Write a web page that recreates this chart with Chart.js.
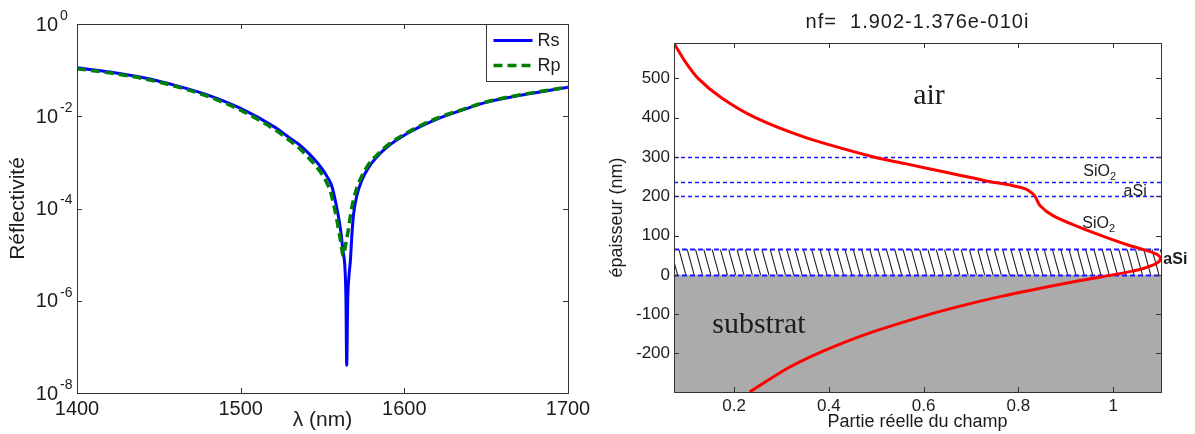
<!DOCTYPE html>
<html lang="fr">
<head>
<meta charset="utf-8">
<title>Réflectivité et profil du champ</title>
<script src="https://cdn.jsdelivr.net/npm/chart.js@4.4.0/dist/chart.umd.min.js"></script>
<style>
  html, body { margin: 0; padding: 0; background: #fff; }
  body { width: 1195px; height: 434px; position: relative; overflow: hidden; }
  canvas { position: absolute; top: 0; }
  #chart-refl { left: 0; }
  #chart-field { left: 595px; }
</style>
</head>
<body>
<canvas id="chart-refl" width="600" height="434"></canvas>
<canvas id="chart-field" width="600" height="434"></canvas>
<script>
// left panel: reflectivity vs wavelength
const lambdaRs = [1400, 1420, 1440, 1460, 1480, 1500, 1520, 1530, 1536, 1542, 1548, 1553, 1556, 1559.4, 1561, 1562.5,
  1563.7, 1564.3, 1564.8, 1565.4, 1566.2, 1567, 1568, 1569, 1571, 1574, 1578, 1583, 1590, 1600, 1610, 1620, 1635,
  1650, 1675, 1700];
const rsValues = [0.1122, 0.0912, 0.0692, 0.0468, 0.0288, 0.0148, 0.00603, 0.00339, 0.00240, 0.00151, 8.71e-4,
  4.79e-4, 2.82e-4, 7.76e-5, 3.55e-5, 1.23e-5, 5.25e-6, 1.26e-6, 3.98e-8, 1.0e-6, 3.55e-6, 7.08e-6, 2.82e-5, 7.59e-5,
  1.91e-4, 4.07e-4, 7.59e-4, 1.29e-3, 2.24e-3, 3.89e-3, 6.03e-3, 8.71e-3, 0.01349, 0.01995, 0.0302, 0.0427];
const lambdaRp = [1400, 1420, 1440, 1460, 1480, 1500, 1520, 1530, 1536, 1542, 1548, 1553, 1555, 1558.5, 1561, 1562.7,
  1564.3, 1565.6, 1567.8, 1571, 1574, 1578, 1583, 1590, 1600, 1610, 1620, 1635, 1650, 1675, 1700];
const rpValues = [0.1072, 0.0871, 0.0661, 0.0447, 0.0269, 0.0135, 0.00537, 0.00295, 0.00200, 0.00120, 6.76e-4,
  3.39e-4, 2.24e-4, 6.31e-5, 2.0e-5, 9.55e-6, 1.78e-5, 3.16e-5, 1.0e-4, 2.82e-4, 5.01e-4, 8.91e-4, 1.41e-3, 2.40e-3,
  4.07e-3, 6.31e-3, 9.12e-3, 0.01380, 0.02042, 0.0309, 0.0427];
const reflTicks = [1e-8, 1e-6, 1e-4, 1e-2, 1];

// right panel: real part of the guided mode field vs depth
const fieldReal = [0.0733, 0.0955, 0.124, 0.174, 0.245, 0.350, 0.495, 0.561, 0.647, 0.710, 0.741, 0.785, 0.815, 0.829,
  0.836, 0.846, 0.874, 0.931, 0.988, 1.036, 1.065, 1.093, 1.100, 1.091, 1.065, 1.038, 0.999, 0.928, 0.818, 0.766,
  0.692, 0.614, 0.481, 0.388, 0.314, 0.233];
const depthNm = [589, 545, 500, 450, 400, 350, 300, 283, 261, 245, 237, 228, 219, 208, 198, 176, 150, 120, 94, 74, 64,
  52, 41, 29, 17, 9, 0, -15, -41, -54, -75, -100, -150, -194, -237, -298];
const layerLines = [300, 237, 200, 65, 0];
const aSiCore = [0, 65];
const substrateTop = 0;
const fieldTitle = 'nf=  1.902-1.376e-010i';

const sans = '"Liberation Sans", Arial, sans-serif';
const serif = '"Liberation Serif", "Times New Roman", serif';
const axisGrey = '#333333';
const textColor = '#1c1c1c';

Chart.defaults.font.family = sans;
Chart.defaults.color = textColor;

function toPoints(xs, ys) {
  return xs.map(function (x, i) { return { x: x, y: ys[i] }; });
}

// matlab style box with inward ticks on all four sides
const boxTicks = {
  id: 'boxTicks',
  afterDraw(chart) {
    const { ctx, chartArea: a, scales } = chart;
    const len = 5;
    ctx.save();
    ctx.strokeStyle = axisGrey;
    ctx.lineWidth = 1;
    ctx.setLineDash([]);
    ctx.beginPath();
    scales.x.ticks.forEach(function (t) {
      const px = Math.round(scales.x.getPixelForValue(t.value)) + 0.5;
      ctx.moveTo(px, a.bottom); ctx.lineTo(px, a.bottom - len);
      ctx.moveTo(px, a.top); ctx.lineTo(px, a.top + len);
    });
    scales.y.ticks.forEach(function (t) {
      const py = Math.round(scales.y.getPixelForValue(t.value)) + 0.5;
      ctx.moveTo(a.left, py); ctx.lineTo(a.left + len, py);
      ctx.moveTo(a.right, py); ctx.lineTo(a.right - len, py);
    });
    ctx.stroke();
    ctx.strokeRect(Math.round(a.left) + 0.5, Math.round(a.top) + 0.5, Math.round(a.width), Math.round(a.height));
    ctx.restore();
  }
};

// 10^n labels for the log axis
const powerLabels = {
  id: 'powerLabels',
  afterDraw(chart) {
    const { ctx, chartArea: a, scales } = chart;
    ctx.save();
    ctx.fillStyle = textColor;
    ctx.textBaseline = 'middle';
    scales.y.ticks.forEach(function (t) {
      const py = scales.y.getPixelForValue(t.value);
      const exp = String(Math.round(Math.log10(t.value)));
      ctx.font = '20px ' + sans;
      ctx.textAlign = 'right';
      ctx.fillText('10', a.left - 19, py + 1);
      ctx.font = '14px ' + sans;
      ctx.textAlign = 'left';
      ctx.fillText(exp, a.left - 17, py - 8);
    });
    ctx.restore();
  }
};

const legendBox = {
  id: 'legendBox',
  afterDraw(chart) {
    const { ctx, chartArea: a } = chart;
    const w = 82, h = 57;
    const x0 = Math.round(a.right) - w + 0.5, y0 = Math.round(a.top) + 0.5;
    ctx.save();
    ctx.fillStyle = '#fff';
    ctx.fillRect(x0, y0, w, h);
    ctx.strokeStyle = axisGrey;
    ctx.lineWidth = 1;
    ctx.strokeRect(x0, y0, w, h);
    ctx.font = '18px ' + sans;
    ctx.textBaseline = 'middle';
    ctx.textAlign = 'left';
    chart.data.datasets.forEach(function (ds, i) {
      const y = y0 + 16 + i * 25;
      ctx.strokeStyle = ds.borderColor;
      ctx.lineWidth = ds.borderWidth;
      ctx.setLineDash(ds.borderDash || []);
      ctx.beginPath();
      ctx.moveTo(x0 + 7, y);
      ctx.lineTo(x0 + 46, y);
      ctx.stroke();
      ctx.setLineDash([]);
      ctx.fillStyle = textColor;
      ctx.fillText(ds.label, x0 + 51, y + 1);
    });
    ctx.restore();
  }
};

// substrate, hatched aSi core and layer boundaries
const layers = {
  id: 'layers',
  beforeDatasetsDraw(chart) {
    const { ctx, chartArea: a, scales } = chart;
    const y = scales.y;
    ctx.save();
    ctx.beginPath();
    ctx.rect(a.left, a.top, a.width, a.height);
    ctx.clip();

    const ySub = y.getPixelForValue(substrateTop);
    ctx.fillStyle = '#ababab';
    ctx.fillRect(a.left, ySub, a.width, a.bottom - ySub);

    const yTop = y.getPixelForValue(aSiCore[1]);
    const yBot = y.getPixelForValue(aSiCore[0]);
    ctx.save();
    ctx.beginPath();
    ctx.rect(a.left, yTop, a.width, yBot - yTop);
    ctx.clip();
    ctx.strokeStyle = '#222222';
    ctx.lineWidth = 1.1;
    ctx.beginPath();
    for (let x = a.left - 20; x < a.right + 10; x += 8.3) {
      ctx.moveTo(x, yTop);
      ctx.lineTo(x + 7, yBot);
    }
    ctx.stroke();
    ctx.restore();

    layerLines.forEach(function (d) {
      const core = aSiCore.indexOf(d) >= 0;
      const py = Math.round(y.getPixelForValue(d)) + 0.5;
      ctx.strokeStyle = '#1a1aff';
      ctx.lineWidth = core ? 2 : 1.3;
      ctx.setLineDash(core ? [5, 3] : [4, 3]);
      ctx.beginPath();
      ctx.moveTo(a.left, py);
      ctx.lineTo(a.right, py);
      ctx.stroke();
    });
    ctx.restore();
  },
  afterDraw(chart) {
    const { ctx, chartArea: a, scales } = chart;
    const sx = scales.x, sy = scales.y;
    ctx.save();
    ctx.fillStyle = textColor;
    ctx.textBaseline = 'alphabetic';
    ctx.textAlign = 'left';

    function put(text, vx, vy, font) {
      ctx.font = font;
      ctx.fillText(text, sx.getPixelForValue(vx), sy.getPixelForValue(vy));
    }
    function putSub(text, sub, vx, vy) {
      const px = sx.getPixelForValue(vx), py = sy.getPixelForValue(vy);
      ctx.font = '16px ' + sans;
      ctx.fillText(text, px, py);
      const w = ctx.measureText(text).width;
      ctx.font = '11px ' + sans;
      ctx.fillText(sub, px + w, py + 4);
    }

    put('air', 0.578, 436, '30px ' + serif);
    put('substrat', 0.154, -148, '30px ' + serif);
    putSub('SiO', '2', 0.937, 252);
    putSub('SiO', '2', 0.935, 120);
    put('aSi', 1.022, 201, '16px ' + sans);
    put('aSi', 1.106, 28, 'bold 16px ' + sans);

    ctx.font = '20px ' + sans;
    ctx.letterSpacing = '1px';
    ctx.textAlign = 'center';
    ctx.textBaseline = 'middle';
    ctx.fillText(fieldTitle, (a.left + a.right) / 2, 22);
    ctx.restore();
  }
};

function createReflChart() {
  return new Chart(document.getElementById('chart-refl'), {
    type: 'scatter',
    data: {
      datasets: [{
        label: 'Rs',
        data: toPoints(lambdaRs, rsValues),
        showLine: true,
        borderColor: '#0000ff',
        borderWidth: 3,
        pointRadius: 0,
        cubicInterpolationMode: 'monotone',
        order: 2
      }, {
        label: 'Rp',
        data: toPoints(lambdaRp, rpValues),
        showLine: true,
        borderColor: '#008000',
        borderWidth: 3.5,
        borderDash: [9, 5],
        pointRadius: 0,
        cubicInterpolationMode: 'monotone',
        order: 1
      }]
    },
    options: {
      responsive: false,
      animation: false,
      devicePixelRatio: 1,
      layout: { padding: { left: 0, right: 32, top: 24, bottom: 0 } },
      plugins: { legend: { display: false }, tooltip: { enabled: false } },
      scales: {
        x: {
          type: 'linear',
          min: 1400,
          max: 1700,
          grid: { display: false, drawTicks: false },
          border: { display: false },
          ticks: {
            stepSize: 100,
            padding: 4,
            font: { size: 20 },
            color: textColor,
            maxRotation: 0,
            callback: function (v) { return String(v); }
          },
          title: { display: true, text: 'λ (nm)', font: { size: 21 }, color: textColor, padding: { top: 0, bottom: 1 } },
          afterFit(scale) { scale.height = 41; }
        },
        y: {
          type: 'logarithmic',
          min: 1e-8,
          max: 1,
          grid: { display: false, drawTicks: false },
          border: { display: false },
          ticks: { display: false },
          afterBuildTicks(scale) { scale.ticks = reflTicks.map(function (v) { return { value: v }; }); },
          title: { display: true, text: 'Réflectivité', font: { size: 21 }, color: textColor, padding: { top: 6, bottom: 0 } },
          afterFit(scale) { scale.width = 77; }
        }
      }
    },
    plugins: [boxTicks, powerLabels, legendBox]
  });
}

function createFieldChart() {
  return new Chart(document.getElementById('chart-field'), {
    type: 'scatter',
    data: {
      datasets: [{
        label: 'champ',
        data: toPoints(fieldReal, depthNm),
        showLine: true,
        borderColor: '#ff0000',
        borderWidth: 3,
        pointRadius: 0,
        tension: 0.3
      }]
    },
    options: {
      responsive: false,
      animation: false,
      devicePixelRatio: 1,
      layout: { padding: { left: 0, right: 34, top: 43, bottom: 0 } },
      plugins: { legend: { display: false }, tooltip: { enabled: false } },
      scales: {
        x: {
          type: 'linear',
          min: 0.0733,
          max: 1.101,
          grid: { display: false, drawTicks: false },
          border: { display: false },
          ticks: {
            stepSize: 0.2,
            includeBounds: false,
            padding: 4,
            font: { size: 17 },
            color: textColor,
            maxRotation: 0,
            callback: function (v) { return String(Math.round(v * 10) / 10); }
          },
          title: { display: true, text: 'Partie réelle du champ', font: { size: 18 }, color: textColor, padding: { top: 0, bottom: 1 } },
          afterFit(scale) { scale.height = 42; }
        },
        y: {
          type: 'linear',
          min: -298,
          max: 590,
          grid: { display: false, drawTicks: false },
          border: { display: false },
          ticks: { stepSize: 100, includeBounds: false, padding: 4, font: { size: 17 }, color: textColor },
          title: { display: true, text: 'épaisseur (nm)', font: { size: 18 }, color: textColor, padding: { top: 11, bottom: 0 } },
          afterFit(scale) { scale.width = 79; }
        }
      }
    },
    plugins: [layers, boxTicks]
  });
}

createReflChart();
createFieldChart();
</script>
</body>
</html>
